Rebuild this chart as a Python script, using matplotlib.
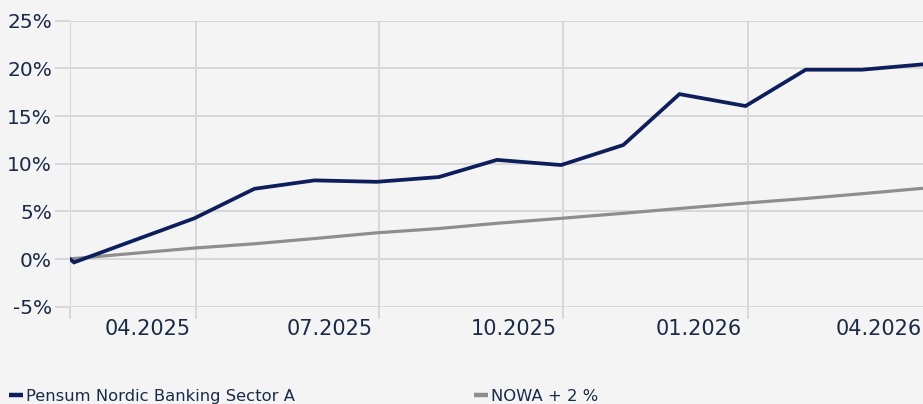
import matplotlib
matplotlib.use("Agg")
import matplotlib.pyplot as plt
import matplotlib.dates as mdates
import matplotlib.transforms as mtransforms
import pandas as pd

# ---- data ----
dates = ["2025-01-28", "2025-01-30", "2025-03-31", "2025-04-30", "2025-05-30",
         "2025-06-30", "2025-07-31", "2025-08-29", "2025-09-30", "2025-10-31",
         "2025-11-28", "2025-12-31", "2026-01-30", "2026-02-27", "2026-03-31"]
fund = [0.0, -0.35, 4.27, 7.37, 8.25, 8.1, 8.6, 10.4, 9.86, 11.96,
        17.3, 16.05, 19.86, 19.86, 20.45]
nowa = [0.0, 0.05, 1.15, 1.6, 2.15, 2.75, 3.2, 3.75, 4.27, 4.8,
        5.3, 5.87, 6.35, 6.85, 7.45]
fund_label = "Pensum Nordic Banking Sector A"
nowa_label = "NOWA + 2 %"
x_ticks = ["2025-01-28", "2025-04-01", "2025-07-01", "2025-10-01", "2026-01-01", "2026-04-01"]
x_tick_labels = ["", "04.2025", "07.2025", "10.2025", "01.2026", "04.2026"]
y_ticks = [-5, 0, 5, 10, 15, 20, 25]
y_tick_labels = ["-5%", "0%", "5%", "10%", "15%", "20%", "25%"]

x = pd.to_datetime(dates)

BG = "#f4f4f4"
GRID = "#d8d8d8"
TXT = "#1b2a47"
NAVY = "#0c1e5b"
GRAY = "#8e8e8e"

plt.rcParams['font.family'] = ['DejaVu Sans']

fig = plt.figure(figsize=(9.23, 4.04), dpi=100)
fig.patch.set_facecolor(BG)
W, H = 923, 404
left_px, right_px, top_px, bot_px = 70, 932, 20.7, 306.7
ax = fig.add_axes([left_px / W, 1 - bot_px / H, (right_px - left_px) / W, (bot_px - top_px) / H])
ax.set_facecolor(BG)

ax.plot(x, nowa, color=GRAY, lw=2.3, label=nowa_label, solid_capstyle='butt', zorder=3)
ax.plot(x, fund, color=NAVY, lw=2.7, label=fund_label, solid_joinstyle='miter', zorder=4)

ax.set_xlim(pd.Timestamp("2025-01-28"), pd.Timestamp("2026-04-03"))
ax.set_ylim(-5, 25)

ax.set_xticks(pd.to_datetime(x_ticks))
ax.set_xticklabels(x_tick_labels)
ax.set_yticks(y_ticks)
ax.set_yticklabels(y_tick_labels)

ax.grid(True, color=GRID, lw=1.4, zorder=0)
for s in ax.spines.values():
    s.set_visible(False)

ax.tick_params(axis='x', length=8.5, width=1.4, color=GRID, labelsize=15, labelcolor=TXT, pad=0.5)
ax.tick_params(axis='y', length=11, width=1.4, color=GRID, labelsize=14.5, labelcolor=TXT, pad=2)

offset = mtransforms.ScaledTranslation(-6 / 100, 0, fig.dpi_scale_trans)
for lab in ax.get_xticklabels():
    lab.set_horizontalalignment('right')
    lab.set_transform(lab.get_transform() + offset)

# legend
handles, labels = ax.get_legend_handles_labels()
order = [1, 0]
leg = fig.legend([handles[i] for i in order], [labels[i] for i in order],
                 loc='center left', bbox_to_anchor=(9 / W, 7.5 / H), ncol=2,
                 frameon=False, fontsize=11.8, handlelength=0.85, handletextpad=0.2,
                 columnspacing=10.9, borderpad=0, borderaxespad=0)
for t in leg.get_texts():
    t.set_color(TXT)
for h in leg.legend_handles:
    h.set_linewidth(3.2)
    h.set_solid_capstyle('butt')

fig.savefig("out.png", dpi=100, facecolor=BG)
